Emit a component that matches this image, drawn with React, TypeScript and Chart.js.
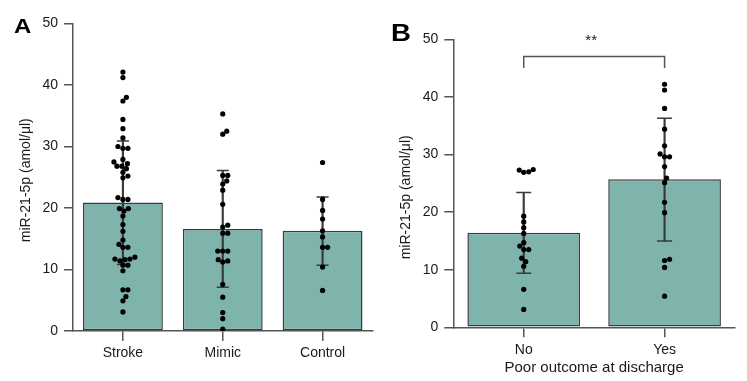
import React, { useEffect, useRef } from "react";
import { Chart, registerables } from "chart.js";

Chart.register(...registerables);

// ---------- data ----------
const groupsA = ["Stroke", "Mimic", "Control"];
const meanA = [20.9, 16.6, 16.3];
const errLowA = [10.8, 7.1, 10.7];
const errHighA = [30.9, 26.1, 21.8];
const strokeDots = [42.1, 41.2, 38.0, 37.4, 34.4, 32.9, 31.4, 30.0, 29.7, 29.7, 27.9, 27.5, 27.2, 26.8, 26.8, 26.4, 25.8, 25.2, 24.9, 21.7, 21.4, 21.4, 19.9, 19.9, 19.5, 18.7, 17.3, 16.2, 14.8, 14.1, 13.6, 13.6, 12.0, 11.7, 11.7, 11.6, 11.4, 10.7, 10.7, 9.8, 6.7, 6.7, 5.6, 4.9, 3.1];
const mimicDots = [35.3, 32.5, 32.0, 25.3, 25.3, 24.4, 23.9, 22.9, 20.6, 17.2, 16.9, 15.9, 15.9, 13.0, 13.0, 13.0, 11.6, 11.4, 11.2, 7.6, 5.5, 3.0, 2.0, 0.3];
const controlDots = [27.4, 21.4, 19.6, 18.2, 16.3, 15.3, 13.6, 13.6, 10.4, 6.6];

const groupsB = ["No", "Yes"];
const meanB = [16.4, 25.7];
const errLowB = [9.4, 15.0];
const errHighB = [23.4, 36.3];
const noDots = [27.4, 27.3, 27.0, 26.9, 19.3, 18.3, 17.3, 16.3, 14.7, 14.1, 13.5, 13.5, 12.0, 11.4, 10.6, 6.6, 3.1];
const yesDots = [42.2, 41.2, 38.0, 34.4, 31.5, 30.1, 29.6, 29.6, 27.9, 25.9, 25.1, 21.7, 19.9, 11.8, 11.6, 10.4, 5.4];

const yTicksMax = 50;
const yTickStep = 10;
const yTitle = "miR-21-5p (amol/\u03bcl)";
const xTitleB = "Poor outcome at discharge";
const sigLabel = "**";
const sigBracket = { from: 0, to: 1, low: 45, high: 47 };

// ---------- styles ----------
const FONT = "'Liberation Sans', Arial, Helvetica, sans-serif";
const BAR_FILL = "#7eb4ac";
const BAR_EDGE = "#3c3c3c";
const AXIS = "#555555";
const ERR = "#3a3a3a";
const TEXT = "#1a1a1a";

// beeswarm offsets (category units) computed from values
function swarm(values: number[], pxPerUnit: number, pxPerCat: number, d: number): number[] {
  const order = values.map((_, i) => i).sort((a, b) => values[a] - values[b]);
  const placed: { x: number; y: number }[] = [];
  const out = new Array(values.length).fill(0);
  for (const i of order) {
    const y = values[i] * pxPerUnit;
    let best = 0;
    for (let s = 0; s < 400; s++) {
      const cand = s === 0 ? 0 : (s % 2 ? 1 : -1) * Math.ceil(s / 2) * 0.5;
      if (placed.every((p) => (p.x - cand) ** 2 + (p.y - y) ** 2 >= d * d)) {
        best = cand;
        break;
      }
    }
    placed.push({ x: best, y });
    out[i] = best / pxPerCat;
  }
  return out;
}

function dotsData(groups: number[][], pxPerUnit: number, pxPerCat: number) {
  const pts: { x: number; y: number }[] = [];
  groups.forEach((vals, gi) => {
    const off = swarm(vals, pxPerUnit, pxPerCat, 5);
    vals.forEach((v, i) => pts.push({ x: gi + off[i], y: v }));
  });
  return pts;
}

// y-axis title drawn through a plugin so that its vertical centre can be set
const yTitlePlugin = {
  id: "yTitle",
  afterDraw(chart: any, _args: any, o: any) {
    const { ctx, chartArea } = chart;
    ctx.save();
    ctx.font = `${o.size}px ${FONT}`;
    ctx.fillStyle = TEXT;
    ctx.textAlign = "center";
    ctx.textBaseline = "middle";
    ctx.translate(o.x, (chartArea.top + chartArea.bottom) / 2 + o.shift);
    ctx.rotate(-Math.PI / 2);
    ctx.fillText(yTitle, 0, 0);
    ctx.restore();
  },
};

function makeConfig(opts: {
  labels: string[];
  means: number[];
  lows: number[];
  highs: number[];
  dots: { x: number; y: number }[];
  yWidth: number;
  xHeight: number;
  padTop: number;
  padRight: number;
  capRadius: number;
  titleShift: number;
  xTitle?: string;
  extra?: any[];
  plugins?: any[];
}): any {
  const n = opts.labels.length;
  const tickFont = { family: FONT, size: 14 };
  const datasets: any[] = [
    {
      type: "scatter",
      data: opts.dots,
      xAxisID: "xj",
      yAxisID: "y",
      pointRadius: 2.6,
      pointBackgroundColor: "#000",
      pointBorderWidth: 0,
      order: 0,
    },
    {
      type: "line",
      data: opts.highs,
      xAxisID: "x",
      yAxisID: "y",
      showLine: false,
      pointStyle: "line",
      pointRadius: opts.capRadius,
      pointBorderWidth: 1.5,
      pointBorderColor: ERR,
      order: 1,
    },
    {
      type: "line",
      data: opts.lows,
      xAxisID: "x",
      yAxisID: "y",
      showLine: false,
      pointStyle: "line",
      pointRadius: opts.capRadius,
      pointBorderWidth: 1.5,
      pointBorderColor: ERR,
      order: 1,
    },
    {
      type: "bar",
      data: opts.lows.map((l, i) => [l, opts.highs[i]]),
      xAxisID: "x",
      yAxisID: "y",
      barThickness: 1.5,
      backgroundColor: ERR,
      borderWidth: 0,
      grouped: false,
      order: 2,
    },
    {
      type: "bar",
      data: opts.means,
      xAxisID: "x",
      yAxisID: "y",
      backgroundColor: BAR_FILL,
      borderColor: BAR_EDGE,
      borderWidth: 1.5,
      borderSkipped: false,
      barPercentage: 0.8,
      categoryPercentage: 1,
      grouped: false,
      order: 3,
    },
    ...(opts.extra || []),
  ];
  return {
    type: "bar",
    data: { labels: opts.labels, datasets },
    options: {
      responsive: false,
      maintainAspectRatio: false,
      animation: false,
      layout: { padding: { top: opts.padTop, right: opts.padRight, left: 0, bottom: 0 } },
      plugins: {
        legend: { display: false },
        tooltip: { enabled: false },
        yTitle: { x: 26.5, shift: opts.titleShift, size: 14 },
      },
      scales: {
        x: {
          type: "category",
          position: "bottom",
          offset: true,
          grid: { display: true, offset: false, drawOnChartArea: false, drawTicks: true, tickLength: 10, color: AXIS, lineWidth: 1.5 },
          border: { display: true, color: AXIS, width: 1.5 },
          ticks: { font: tickFont, color: TEXT, padding: 4, maxRotation: 0 },
          title: opts.xTitle
            ? { display: true, text: opts.xTitle, font: { family: FONT, size: 15 }, color: TEXT, padding: { top: 0, bottom: 4 } }
            : { display: false },
          afterFit: (s: any) => {
            s.height = opts.xHeight;
          },
        },
        xj: { type: "linear", position: "bottom", display: false, offset: false, grace: 0, min: -0.5, max: n - 0.5 },
        y: {
          type: "linear",
          position: "left",
          min: 0,
          max: yTicksMax,
          ticks: { stepSize: yTickStep, font: tickFont, color: TEXT, padding: 6 },
          grid: { display: true, drawOnChartArea: false, drawTicks: true, tickLength: 9, color: AXIS, lineWidth: 1.5 },
          border: { display: true, color: AXIS, width: 1.5 },
          title: { display: false },
          afterFit: (s: any) => {
            s.width = opts.yWidth;
          },
        },
      },
    },
    plugins: [yTitlePlugin, ...(opts.plugins || [])],
  };
}

const sigPlugin = {
  id: "sigText",
  afterDatasetsDraw(chart: any) {
    const { ctx, scales } = chart;
    const x = scales.xj.getPixelForValue((sigBracket.from + sigBracket.to) / 2);
    const y = scales.y.getPixelForValue(yTicksMax) + 6;
    ctx.save();
    ctx.font = `15px ${FONT}`;
    ctx.fillStyle = TEXT;
    ctx.textAlign = "center";
    ctx.textBaseline = "alphabetic";
    ctx.fillText(sigLabel, x - 3, y);
    ctx.restore();
  },
};

export default function App() {
  const refA = useRef<HTMLCanvasElement>(null);
  const refB = useRef<HTMLCanvasElement>(null);
  useEffect(() => {
    const cfgA = makeConfig({
      labels: groupsA,
      means: meanA,
      lows: errLowA,
      highs: errHighA,
      dots: dotsData([strokeDots, mimicDots, controlDots], 6.16, 100),
      yWidth: 73,
      xHeight: 50,
      padTop: 23.5,
      padRight: 7,
      capRadius: 6,
      titleShift: 3,
    });
    const cfgB = makeConfig({
      labels: groupsB,
      means: meanB,
      lows: errLowB,
      highs: errHighB,
      dots: dotsData([noDots, yesDots], 5.76, 141),
      yWidth: 73.3,
      xHeight: 53.7,
      padTop: 39.3,
      padRight: 12,
      capRadius: 7.5,
      titleShift: 14,
      xTitle: xTitleB,
      extra: [
        {
          type: "line",
          xAxisID: "xj",
          yAxisID: "y",
          data: [
            { x: sigBracket.from, y: sigBracket.low },
            { x: sigBracket.from, y: sigBracket.high },
            { x: sigBracket.to, y: sigBracket.high },
            { x: sigBracket.to, y: sigBracket.low },
          ],
          borderColor: AXIS,
          borderWidth: 1.5,
          pointRadius: 0,
          fill: false,
          order: 0,
        },
      ],
      plugins: [sigPlugin],
    });
    const a = new Chart(refA.current as HTMLCanvasElement, cfgA);
    const b = new Chart(refB.current as HTMLCanvasElement, cfgB);
    return () => {
      a.destroy();
      b.destroy();
    };
  }, []);
  const letter: React.CSSProperties = { position: "absolute", fontFamily: FONT, fontWeight: "bold", lineHeight: 1, color: "#000" };
  return (
    <div style={{ position: "absolute", left: 0, top: 0, width: 747, height: 381, background: "#fff", overflow: "hidden" }}>
      <canvas ref={refA} width={380} height={381} style={{ position: "absolute", left: 0, top: 0, width: 380, height: 381 }} />
      <canvas ref={refB} width={367} height={381} style={{ position: "absolute", left: 380, top: 0, width: 367, height: 381 }} />
      <div style={{ ...letter, left: 14, top: 16, fontSize: 20, transform: "scaleX(1.2)", transformOrigin: "left top" }}>A</div>
      <div style={{ ...letter, left: 391, top: 22, fontSize: 23, transform: "scaleX(1.2)", transformOrigin: "left top" }}>B</div>
    </div>
  );
}
